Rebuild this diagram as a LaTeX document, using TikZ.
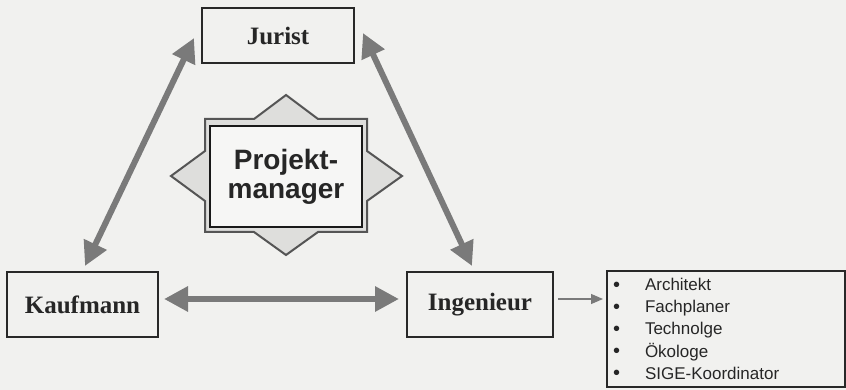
\documentclass[tikz,border=0pt]{standalone}
\usepackage{fontspec}
\setmainfont{Liberation Serif}
\setsansfont{Liberation Sans}
\usetikzlibrary{arrows.meta}
\definecolor{bg}{RGB}{241,241,239}
\definecolor{arrowgray}{RGB}{122,122,122}
\definecolor{boxline}{RGB}{40,40,40}
\definecolor{starfill}{RGB}{222,222,220}
\definecolor{starline}{RGB}{85,85,85}
\definecolor{innerfill}{RGB}{246,246,245}
\tikzset{
  rolebox/.style={draw=boxline, line width=2pt, fill=bg, inner sep=0pt,
    font=\bfseries\fontsize{25}{28}\selectfont, text=black!85},
  bigarrow/.style={draw=arrowgray, line width=6pt,
    {Triangle[length=24pt,width=24pt]}-{Triangle[length=24pt,width=24pt]}},
  thinarrow/.style={draw=arrowgray, line width=1.2pt,
    -{Triangle[length=12pt,width=10pt]}},
  listbox/.style={draw=boxline, line width=2pt, fill=bg, minimum width=238pt,
    minimum height=116pt, inner xsep=6pt, inner ysep=0pt, text width=226pt,
    align=left, font=\sffamily\fontsize{17}{22.2}\selectfont, text=black!85},
  pmbox/.style={draw=black!90, line width=1.5pt, fill=innerfill, minimum width=152pt,
    minimum height=101pt, inner sep=0pt, align=center,
    font=\sffamily\bfseries\fontsize{28}{30}\selectfont, text=black!85},
}
\newcommand{\bitem}[1]{\makebox[32pt][l]{\raisebox{-0.5pt}{\fontsize{20}{20}\selectfont\char"2022}}#1}
\begin{document}
\begin{tikzpicture}[x=1pt,y=-1pt]
\useasboundingbox[fill=bg] (0,0) rectangle (846,390);

% role boxes
\node[rolebox, minimum width=152pt, minimum height=55pt] (jur) at (278,35.5) {Jurist};
\node[rolebox, minimum width=151pt, minimum height=65pt] (kauf) at (82.5,304.5) {Kaufmann};
\node[rolebox, minimum width=146pt, minimum height=65pt] (ing) at (480,304.5) {Ingenieur};
\node[listbox] (list) at (726,329) {%
  \bitem{Architekt}\\
  \bitem{Fachplaner}\\
  \bitem{Technolge}\\
  \bitem{Ökologe}\\
  \bitem{SIGE-Koordinator}};

% project manager star
\coordinate (pmc) at (286,176);
\draw[starline, line width=2pt, fill=starfill, line join=miter]
  ([shift={(-81,-57)}]pmc) -- ([shift={(-32,-57)}]pmc) -- ([shift={(0,-81)}]pmc)
  -- ([shift={(32,-57)}]pmc) -- ([shift={(81,-57)}]pmc) -- ([shift={(81,-25)}]pmc)
  -- ([shift={(116,0)}]pmc) -- ([shift={(81,25)}]pmc) -- ([shift={(81,56)}]pmc)
  -- ([shift={(32,56)}]pmc) -- ([shift={(0,79)}]pmc) -- ([shift={(-32,56)}]pmc)
  -- ([shift={(-81,56)}]pmc) -- ([shift={(-81,25)}]pmc) -- ([shift={(-115,0)}]pmc)
  -- ([shift={(-81,-25)}]pmc) -- cycle;
\node[pmbox] (pm) at (286,176.5) {Projekt-\\[-1pt]manager};

% connectors
\draw[bigarrow] ([xshift=2.5pt,yshift=5pt]kauf.north) -- ([xshift=-7pt,yshift=-2.5pt]jur.west);
\draw[bigarrow] ([xshift=8pt,yshift=2.5pt]jur.east) -- ([xshift=-8pt,yshift=5pt]ing.north);
\draw[bigarrow, shorten <=5pt, shorten >=7pt] ([yshift=5.5pt]kauf.east) -- ([yshift=5.5pt]ing.west);
\draw[thinarrow, shorten <=4pt, shorten >=3pt] ([yshift=5.5pt]ing.east) -- ([yshift=5.5pt]ing.east -| list.west);
\end{tikzpicture}
\end{document}
